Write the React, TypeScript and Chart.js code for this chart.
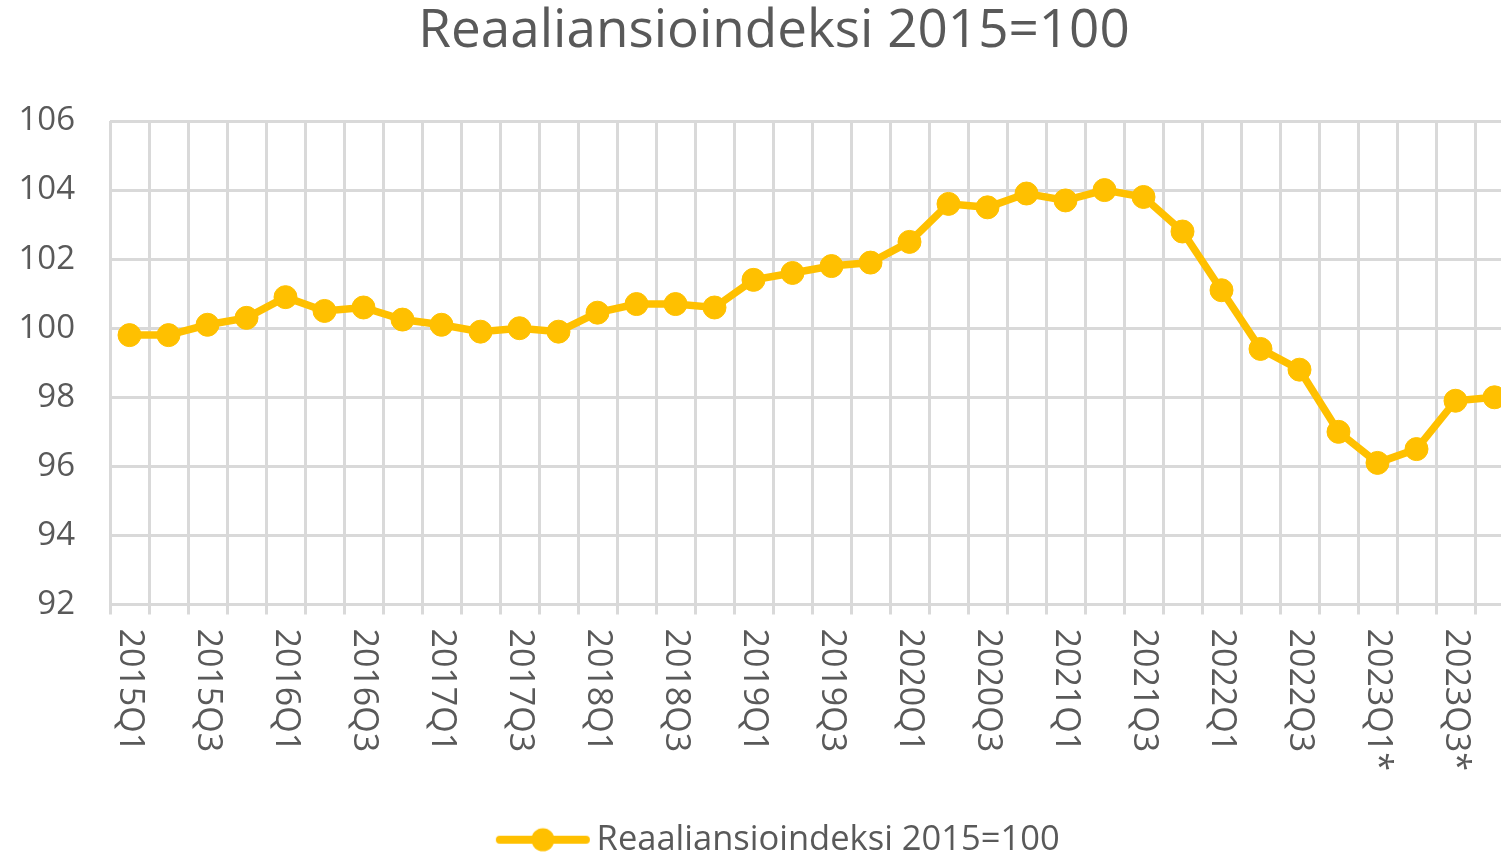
import React, { useEffect, useRef } from 'react';
import { Chart, registerables } from 'chart.js';

Chart.register(...registerables);

const TITLE = 'Reaaliansioindeksi 2015=100';
const SERIES_NAME = 'Reaaliansioindeksi 2015=100';

const categories = [
  '2015Q1', '2015Q2', '2015Q3', '2015Q4',
  '2016Q1', '2016Q2', '2016Q3', '2016Q4',
  '2017Q1', '2017Q2', '2017Q3', '2017Q4',
  '2018Q1', '2018Q2', '2018Q3', '2018Q4',
  '2019Q1', '2019Q2', '2019Q3', '2019Q4',
  '2020Q1', '2020Q2', '2020Q3', '2020Q4',
  '2021Q1', '2021Q2', '2021Q3', '2021Q4',
  '2022Q1', '2022Q2', '2022Q3', '2022Q4',
  '2023Q1*', '2023Q2*', '2023Q3*', '2023Q4*',
];

const values = [
  99.8, 99.8, 100.1, 100.3,
  100.9, 100.5, 100.6, 100.25,
  100.1, 99.9, 100.0, 99.9,
  100.45, 100.7, 100.7, 100.6,
  101.4, 101.6, 101.8, 101.9,
  102.5, 103.6, 103.5, 103.9,
  103.7, 104.0, 103.8, 102.8,
  101.1, 99.4, 98.8, 97.0,
  96.1, 96.5, 97.9, 98.0,
];

const yTickValues = [92, 94, 96, 98, 100, 102, 104, 106];

const FONT = '"Open Sans", "Noto Sans", sans-serif';
const TEXT_COLOR = '#595959';
const GRID_COLOR = '#d9d9d9';
const LINE_COLOR = '#FFC000';

const CANVAS_W = 1548;
const CANVAS_H = 867;

function makeLegendMarker(): HTMLCanvasElement {
  const c = document.createElement('canvas');
  c.width = 96;
  c.height = 26;
  const g = c.getContext('2d')!;
  g.strokeStyle = LINE_COLOR;
  g.lineWidth = 8;
  g.lineCap = 'round';
  g.beginPath();
  g.moveTo(5, 13);
  g.lineTo(91, 13);
  g.stroke();
  g.fillStyle = LINE_COLOR;
  g.beginPath();
  g.arc(48, 13, 11.5, 0, Math.PI * 2);
  g.fill();
  return c;
}

// Shift title / legend boxes horizontally to match the reference centring.
const boxShiftPlugin = {
  id: 'boxShift',
  afterLayout(chart: any) {
    const t = chart.titleBlock;
    if (t) {
      t.left += 8;
      t.right += 8;
    }
    const l = chart.legend;
    if (l) {
      l.left += 17;
      l.right += 17;
    }
  },
};

const xLabelPlugin = {
  id: 'rotatedXLabels',
  afterDraw(chart: any) {
    const scale = chart.scales.x;
    const ctx = chart.ctx;
    const labels: string[] = chart.data.labels;
    ctx.save();
    ctx.font = `34px ${FONT}`;
    ctx.fillStyle = TEXT_COLOR;
    ctx.textAlign = 'left';
    ctx.textBaseline = 'middle';
    labels.forEach((label, i) => {
      if (i % 2 !== 0) return;
      const x = scale.getPixelForValue(i);
      ctx.save();
      ctx.translate(x, scale.top + 24);
      ctx.rotate(Math.PI / 2);
      ctx.fillText(label, 0, 0);
      ctx.restore();
    });
    ctx.restore();
  },
};

export default function App() {
  const canvasRef = useRef<HTMLCanvasElement | null>(null);

  useEffect(() => {
    if (!canvasRef.current) return;
    const marker = makeLegendMarker();
    const chart = new Chart(canvasRef.current, {
      type: 'line',
      data: {
        labels: categories,
        datasets: [
          {
            label: SERIES_NAME,
            data: values,
            borderColor: LINE_COLOR,
            backgroundColor: LINE_COLOR,
            borderWidth: 7.5,
            pointRadius: 11.5,
            pointBorderWidth: 1,
            pointBackgroundColor: LINE_COLOR,
            pointBorderColor: LINE_COLOR,
            tension: 0,
            clip: false as any,
          },
        ],
      },
      plugins: [boxShiftPlugin, xLabelPlugin],
      options: {
        responsive: false,
        animation: false,
        devicePixelRatio: 1,
        layout: { padding: { left: 18, right: 34, top: 0, bottom: 0 } },
        plugins: {
          title: {
            display: true,
            text: TITLE,
            color: TEXT_COLOR,
            font: { family: FONT, size: 53, weight: 'normal' as any },
            padding: { top: 0, bottom: 57.4 },
          },
          legend: {
            display: true,
            position: 'bottom',
            labels: {
              color: TEXT_COLOR,
              font: { family: FONT, size: 34.5 },
              usePointStyle: true,
              pointStyle: marker as any,
              pointStyleWidth: 73,
              padding: 10,
            },
          },
          tooltip: { enabled: false },
        },
        scales: {
          x: {
            type: 'category',
            offset: true,
            grid: {
              offset: true,
              color: GRID_COLOR,
              lineWidth: 3,
              drawTicks: true,
              tickLength: 10,
              tickColor: GRID_COLOR,
            },
            border: { display: true, color: GRID_COLOR, width: 3 },
            ticks: { display: false, autoSkip: false },
            afterFit: (scale: any) => {
              scale.height = 208;
            },
          },
          y: {
            min: yTickValues[0],
            max: yTickValues[yTickValues.length - 1],
            grid: {
              color: GRID_COLOR,
              lineWidth: 3,
              drawTicks: false,
            },
            border: { display: false },
            ticks: {
              stepSize: 2,
              padding: 35,
              color: TEXT_COLOR,
              font: { family: FONT, size: 33 },
            },
            afterFit: (scale: any) => {
              scale.width = 92;
            },
          },
        },
      },
    });
    return () => chart.destroy();
  }, []);

  return (
    <div
      style={{
        position: 'absolute',
        left: 0,
        top: 0,
        width: 1501,
        height: 855,
        overflow: 'hidden',
        background: '#ffffff',
      }}
    >
      <canvas
        ref={canvasRef}
        width={CANVAS_W}
        height={CANVAS_H}
        style={{ display: 'block', width: CANVAS_W, height: CANVAS_H }}
      />
    </div>
  );
}
